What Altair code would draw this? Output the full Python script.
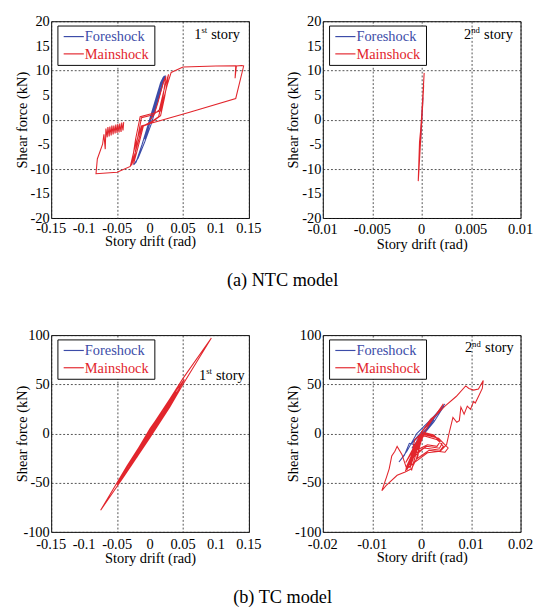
import altair as alt
import pandas as pd

FONT = "Liberation Serif, Times New Roman, Times, serif"
BLUE = "#3c4ca8"
RED = "#e2252c"
SERIES = ["Foreshock", "Mainshock"]
X_TITLE = "Story drift (rad)"
Y_TITLE = "Shear force (kN)"
CAPTIONS = ["(a) NTC model", "(b) TC model"]
STORY_WORD = "story"

# ---------- (a) NTC model, 1st story ----------
NTC1_FORE_X = [0.0, 0.004, -0.002, 0.008, -0.005, 0.012, 0.006, -0.008, -0.003, 0.016, 0.020, 0.022, 0.015,
               0.008, 0.002, -0.008, -0.018, -0.024, -0.025, -0.021, -0.012, -0.004, 0.006, 0.014, 0.020,
               0.023, 0.019, 0.010, 0.004, 0.010, 0.016, 0.008, 0.002]
NTC1_FORE_Y = [0.0, 2.0, -1.5, 3.5, -3.0, 5.5, 2.0, -4.0, -1.0, 7.5, 8.6, 8.9, 5.5,
               2.0, -0.8, -4.5, -7.8, -9.0, -9.2, -8.6, -5.0, -1.5, 2.5, 6.0, 8.5,
               8.8, 7.0, 3.0, 0.5, 3.5, 6.5, 3.0, 0.5]
NTC1_MAIN_X = [0.0, 0.006, 0.012, 0.020, 0.024, 0.019, 0.013, 0.0, -0.010, -0.018, -0.025, -0.020, -0.013,
               0.005, 0.014, 0.022, 0.028, 0.022, 0.016, 0.0, -0.012, -0.020, -0.028, -0.022, -0.015,
               0.002, 0.016, 0.026, 0.032, 0.050, 0.100, 0.130, 0.129, 0.131, 0.139, 0.142, 0.130,
               0.060, 0.0, -0.013, -0.022, -0.030, -0.050, -0.082, -0.080, -0.072, -0.070, -0.068,
               -0.067, -0.065, -0.064, -0.062, -0.061, -0.059, -0.058, -0.056, -0.055, -0.053, -0.052,
               -0.050, -0.049, -0.047, -0.046, -0.044, -0.043, -0.041, -0.040]
NTC1_MAIN_Y = [0.0, 1.0, 3.5, 7.5, 8.8, 4.0, 0.6, -0.6, -1.2, -5.5, -9.0, -4.5, 0.4,
               1.0, 2.0, 6.5, 9.2, 4.5, 0.8, -0.8, -1.4, -5.5, -9.3, -4.0, 0.6,
               1.2, 1.8, 7.0, 9.6, 10.7, 10.9, 10.95, 8.4, 10.9, 11.0, 10.9, 4.3,
               1.5, -0.8, -1.3, -5.0, -9.5, -10.7, -11.0, -8.0, -5.0, -3.0, -6.0,
               -1.8, -3.6, -1.5, -3.4, -1.4, -3.2, -1.2, -3.0, -1.2, -2.8, -1.0,
               -2.7, -0.9, -2.6, -0.8, -2.5, -0.6, -2.2, -0.5]

# ---------- (a) NTC model, 2nd story ----------
NTC2_FORE_X = [0.0, 0.00005, -0.00005, 0.0001, -0.0001, 0.00012, -0.00012, 0.0]
NTC2_FORE_Y = [0.0, 2.0, -2.0, 3.5, -3.5, 4.5, -4.5, 0.0]
NTC2_MAIN_X = [0.0, 0.0001, -0.0001, 0.00018, -0.0002, 0.00025, 0.0001, -0.0001, -0.00022, -0.00035,
               -0.0003, -0.0001, 0.0001, 0.0002, 0.0]
NTC2_MAIN_Y = [0.0, 3.0, -3.0, 6.0, -6.0, 9.5, 4.0, -2.0, -4.5, -12.5,
               -11.0, -4.0, 3.0, 7.0, 0.0]

# ---------- (b) TC model, 1st story ----------
TC1_FORE_X = [0.0, 0.008, 0.0, -0.008, 0.0, 0.015, 0.0, -0.012, 0.0]
TC1_FORE_Y = [0.0, 8.0, 2.0, -8.0, -2.0, 15.0, 2.0, -13.0, 0.0]
TC1_MAIN_X = [0.0, 0.012, 0.0, -0.010, 0.0, 0.022, 0.0, -0.020, 0.0, 0.030, 0.0, -0.032,
              -0.015, 0.015, 0.045, 0.025, 0.0, -0.025, -0.050, -0.025, 0.0, 0.025, 0.052, 0.025,
              0.0, -0.035, -0.075, -0.040, 0.0, 0.030, 0.050, 0.093, 0.050, 0.030, 0.0, -0.040,
              -0.020, 0.0, 0.030, 0.010, -0.020, 0.0, 0.025, 0.0, -0.028, 0.0, 0.035, 0.0,
              -0.030, -0.010, 0.020, 0.040, 0.020, 0.0, -0.045, -0.020, 0.010, 0.032, 0.0]
TC1_MAIN_Y = [0.0, 12.5, 2.5, -9.5, -2.5, 22.0, 3.0, -21.0, -3.0, 31.0, 3.0, -33.0,
              -19.0, 12.0, 46.0, 29.0, 3.5, -23.0, -52.0, -29.0, -3.5, 23.0, 55.0, 30.0,
              3.5, -33.0, -78.0, -44.0, -4.0, 27.0, 50.0, 97.0, 56.0, 35.0, 4.5, -40.0,
              -24.0, -3.0, 30.0, 13.0, -19.0, -2.0, 27.0, 2.0, -30.0, -2.5, 37.0, 0.0,
              -34.0, -14.0, 17.0, 42.0, 24.0, 5.0, -46.0, -24.0, 8.0, 34.0, 1.0]

# ---------- (b) TC model, 2nd story ----------
TC2_FORE_X = [0.0, 0.001, -0.001, 0.002, -0.0015, 0.0025, -0.002, 0.0035, 0.002, 0.0047, 0.003, -0.001,
              -0.003, -0.0046, -0.0035, -0.0025, -0.001, 0.001, 0.0025, 0.0045, 0.0035, 0.0, -0.002, 0.0]
TC2_FORE_Y = [0.0, 5.0, -8.0, 10.0, -12.0, 14.0, -15.0, 22.0, 15.0, 30.0, 20.0, 0.0,
              -18.0, -29.0, -22.0, -10.0, -12.0, 3.0, 12.0, 28.0, 22.0, 2.0, -10.0, 0.0]
TC2_MAIN_X = [0.0, -0.00142, -0.00239, -0.00045, -0.00303, -0.00077, -0.00271, 0.0, -0.00206, -0.00045,
              -0.00323, 0.00019, -0.00239, -0.0012, -0.0028, -0.0005, -0.0025, -0.0015, -0.0031,
              -0.0008, -0.0026, -0.0002, -0.0022, -0.0010, -0.0029, -0.0004, -0.0018, -0.0027,
              -0.0014, -0.0030, -0.0006, -0.0021, -0.0017, -0.0033, -0.0009, -0.0024, -0.0013,
              -0.0028, -0.0019, -0.0032, -0.0011, -0.0023,
              0.0, 0.00245, 0.00374, 0.0031, 0.00116, -0.00077, 0.00052, 0.00277, 0.00439, 0.00374,
              0.00052, -0.00142, 0.00019, 0.00342, 0.00535, 0.00471, 0.00148, -0.0011,
              0.0002, 0.0030, 0.0041, 0.0036, 0.0010, -0.0012,
              -0.00206, 0.00181, 0.00439, 0.0031, 0.00181, 0.0,
              0.00245, 0.00471, 0.00697, 0.0089, 0.00955, 0.01051, 0.01148, 0.01245, 0.01226, 0.01148,
              0.01084, 0.01051, 0.00987, 0.00922, 0.00858, 0.00793, 0.00761, 0.0071, 0.00632, 0.00568,
              0.00503, 0.00374, 0.00116, -0.00142,
              -0.00303, -0.004, -0.00497, -0.00542, -0.00606, -0.00658, -0.0071, -0.00806, -0.00722,
              -0.00497, -0.00335, -0.00206, -0.00077, 0.0]
TC2_MAIN_Y = [0.0, -6.5, -29.4, -1.6, -35.9, -9.8, -32.7, 1.6, -37.6, -6.5,
              -29.4, 3.3, -35.3, -12.0, -33.0, -4.0, -30.0, -20.0, -34.0,
              -8.0, -31.0, -2.0, -27.0, -14.0, -36.0, -5.0, -24.0, -33.0,
              -16.0, -37.0, -10.0, -28.0, -22.0, -38.0, -12.0, -32.0, -18.0,
              -35.0, -25.0, -36.0, -15.0, -30.0,
              1.6, -1.6, -8.2, -13.1, -11.4, -16.3, 0.0, -3.3, -13.1, -17.0,
              -14.7, -22.9, -0.7, -4.9, -14.7, -19.0, -17.0, -26.1,
              -2.0, -6.0, -10.5, -15.0, -13.0, -20.0,
              -19.6, 11.4, 30.1, 19.6, 14.7, 1.6,
              16.3, 27.8, 37.6, 48.4, 45.8, 44.1, 45.1, 53.9, 45.8, 37.6,
              31.0, 32.7, 24.5, 27.8, 19.6, 26.8, 13.1, 11.4, 16.3, 3.3,
              -11.4, -18.0, -19.6, -29.4,
              -35.9, -21.2, -13.1, -18.0, -22.9, -35.9, -44.1, -58.2, -52.9,
              -42.5, -39.2, -35.9, -22.9, 0.0]

# tick values and their labels
NTC1_X_TICKS = [-0.15, -0.1, -0.05, 0, 0.05, 0.1, 0.15]
NTC1_X_LABELS = ["-0.15", "-0.1", "-0.05", "0", "0.05", "0.1", "0.15"]
NTC2_X_TICKS = [-0.01, -0.005, 0, 0.005, 0.01]
NTC2_X_LABELS = ["-0.01", "-0.005", "0", "0.005", "0.01"]
NTC_Y_TICKS = [-20, -15, -10, -5, 0, 5, 10, 15, 20]
NTC_Y_LABELS = ["-20", "-15", "-10", "-5", "0", "5", "10", "15", "20"]
TC1_X_TICKS = [-0.15, -0.1, -0.05, 0, 0.05, 0.1, 0.15]
TC1_X_LABELS = ["-0.15", "-0.1", "-0.05", "0", "0.05", "0.1", "0.15"]
TC2_X_TICKS = [-0.02, -0.01, 0, 0.01, 0.02]
TC2_X_LABELS = ["-0.02", "-0.01", "0", "0.01", "0.02"]
TC_Y_TICKS = [-100, -50, 0, 50, 100]
TC_Y_LABELS = ["-100", "-50", "0", "50", "100"]

W, H = 206, 205
one = pd.DataFrame({"k": [0]})


def panel(fx, fy, mx, my, xvals, xlabs, yvals, ylabs, num, sup, lab_x, lab_y, story_dx, xtitle_y, xlab_y):
    fore = pd.DataFrame({"x": fx, "y": fy, "i": list(range(len(fx)))})
    main = pd.DataFrame({"x": mx, "y": my, "i": list(range(len(mx)))})
    xt = pd.DataFrame({"x": xvals, "label": xlabs})
    yt = pd.DataFrame({"y": yvals, "label": ylabs})
    xs = alt.Scale(domain=[xvals[0], xvals[-1]], nice=False, zero=False)
    ys = alt.Scale(domain=[yvals[0], yvals[-1]], nice=False, zero=False)
    xax = alt.Axis(values=xvals, title=X_TITLE, labels=False, titleY=xtitle_y, titleFont=FONT)
    yax = alt.Axis(values=yvals, title=Y_TITLE, labels=False, titleX=-23, titleFont=FONT)
    fore_line = alt.Chart(fore).mark_line(color=BLUE, strokeWidth=1.1).encode(
        x=alt.X("x:Q", scale=xs, axis=xax), y=alt.Y("y:Q", scale=ys, axis=yax), order="i:Q")
    main_line = alt.Chart(main).mark_line(color=RED, strokeWidth=1.1).encode(
        x="x:Q", y="y:Q", order="i:Q")
    xlab = alt.Chart(xt).mark_text(font=FONT, fontSize=15, color="black", align="center",
                                   baseline="top").encode(x="x:Q", y=alt.value(H + xlab_y), text="label:N")
    ylab = alt.Chart(yt).mark_text(font=FONT, fontSize=15, color="black", align="right",
                                   baseline="middle").encode(y="y:Q", x=alt.value(-1.5), text="label:N")
    box = alt.Chart(one).mark_rect(fill="white", stroke="black", strokeWidth=1).encode(
        x=alt.value(7), x2=alt.value(108), y=alt.value(5), y2=alt.value(46))
    rule_f = alt.Chart(one).mark_rule(color=BLUE, strokeWidth=1.2).encode(
        x=alt.value(13), x2=alt.value(34), y=alt.value(16))
    rule_m = alt.Chart(one).mark_rule(color=RED, strokeWidth=1.2).encode(
        x=alt.value(13), x2=alt.value(34), y=alt.value(34))
    tkw = dict(font=FONT, fontSize=15, align="left", baseline="alphabetic")
    txt_f = alt.Chart(one).mark_text(text=SERIES[0], color=BLUE, **tkw).encode(
        x=alt.value(35), y=alt.value(21))
    txt_m = alt.Chart(one).mark_text(text=SERIES[1], color=RED, **tkw).encode(
        x=alt.value(35), y=alt.value(39))
    t1 = alt.Chart(one).mark_text(text=num, color="black", **tkw).encode(
        x=alt.value(lab_x), y=alt.value(lab_y))
    t2 = alt.Chart(one).mark_text(text=sup, color="black", font=FONT, fontSize=9, align="left",
                                  baseline="alphabetic").encode(
        x=alt.value(lab_x + 7.5), y=alt.value(lab_y - 6))
    t3 = alt.Chart(one).mark_text(text=STORY_WORD, color="black", **tkw).encode(
        x=alt.value(lab_x + story_dx), y=alt.value(lab_y))
    return alt.layer(fore_line, main_line, xlab, ylab, box, rule_f, rule_m, txt_f, txt_m,
                     t1, t2, t3).properties(width=W, height=H)


p1 = panel(NTC1_FORE_X, NTC1_FORE_Y, NTC1_MAIN_X, NTC1_MAIN_Y, NTC1_X_TICKS, NTC1_X_LABELS,
           NTC_Y_TICKS, NTC_Y_LABELS, "1", "st", 149, 18, 17.7, 17, 4)
p2 = panel(NTC2_FORE_X, NTC2_FORE_Y, NTC2_MAIN_X, NTC2_MAIN_Y, NTC2_X_TICKS, NTC2_X_LABELS,
           NTC_Y_TICKS, NTC_Y_LABELS, "2", "nd", 147, 18, 21, 20, 5)
p3 = panel(TC1_FORE_X, TC1_FORE_Y, TC1_MAIN_X, TC1_MAIN_Y, TC1_X_TICKS, TC1_X_LABELS,
           TC_Y_TICKS, TC_Y_LABELS, "1", "st", 154, 47, 17.7, 20, 6)
p4 = panel(TC2_FORE_X, TC2_FORE_Y, TC2_MAIN_X, TC2_MAIN_Y, TC2_X_TICKS, TC2_X_LABELS,
           TC_Y_TICKS, TC_Y_LABELS, "2", "nd", 148, 18, 21, 19, 6)


def cap(text, off):
    return alt.TitleParams(text, orient="bottom", anchor="middle", font=FONT, fontSize=19,
                           fontWeight="normal", color="black", offset=off, dx=9)


row1 = alt.hconcat(p1, p2, spacing=24, title=cap(CAPTIONS[0], 20))
row2 = alt.hconcat(p3, p4, spacing=24, title=cap(CAPTIONS[1], 24))

chart = alt.vconcat(row1, row2, spacing=39).properties(
    padding={"left": 6, "top": -7, "right": 0, "bottom": 0}
).configure_view(stroke="black", strokeWidth=1).configure_axis(
    titleFont=FONT, titleFontSize=15, titleFontWeight="normal", titleColor="black",
    ticks=False, domain=False, gridColor="#222222", gridDash=[2, 2], gridWidth=0.8, gridOpacity=1
)

chart.save("out.html", embed_options={"renderer": "svg", "actions": False})
